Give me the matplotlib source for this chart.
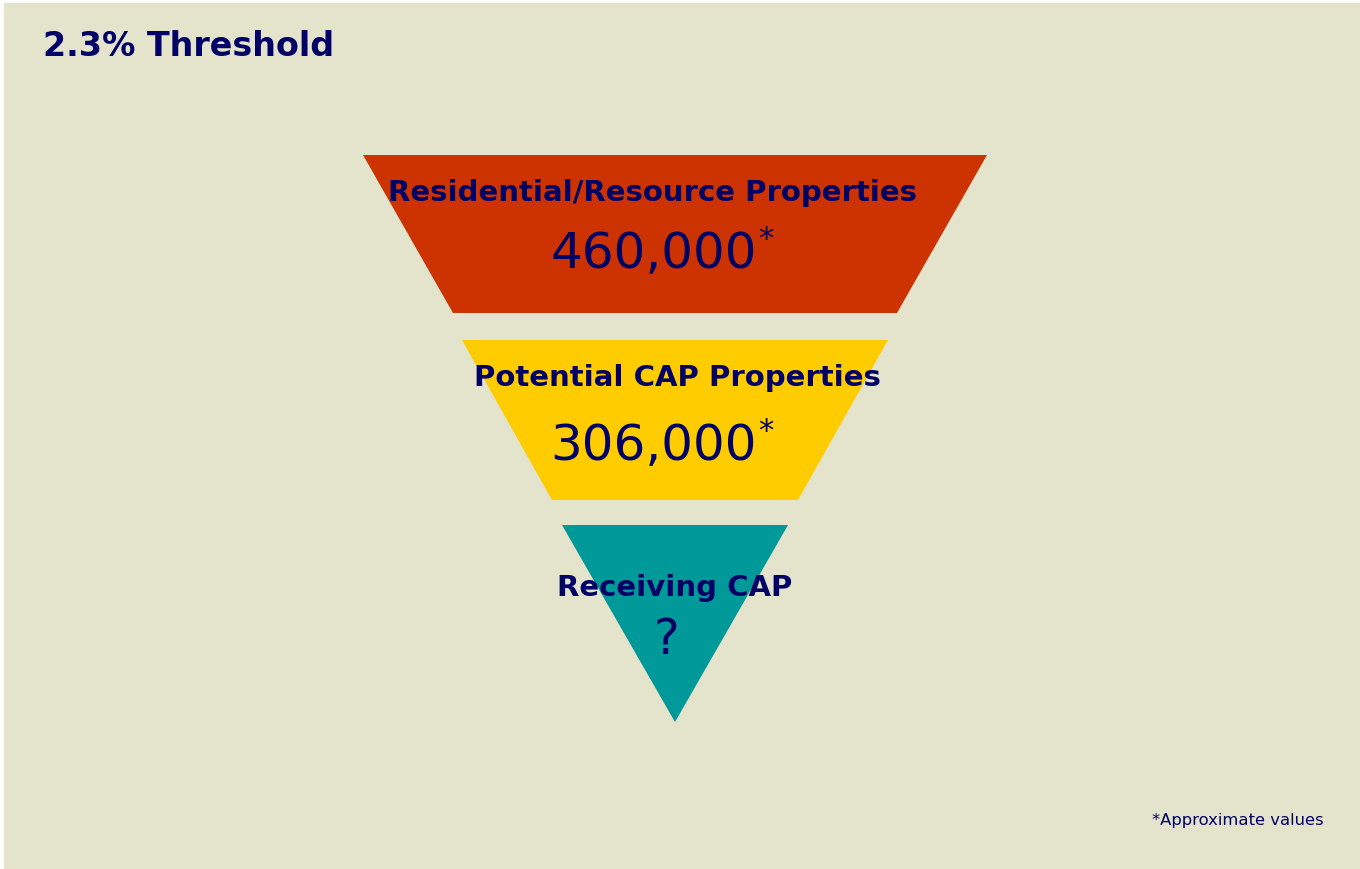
import matplotlib
matplotlib.use('Agg')
import matplotlib.pyplot as plt
from matplotlib.patches import Polygon, Rectangle

# funnel stages, top to bottom
stages = ['Residential/Resource Properties', 'Potential CAP Properties', 'Receiving CAP']
counts = [460000, 306000, None]   # None = not known yet
colors = ['#CC3300', '#FFCC00', '#009999']

# outline of each stage: (top y, bottom y, top half-width, bottom half-width)
shapes = [(155, 313, 312, 222), (340, 500, 213, 123), (525, 722, 113, 0)]
cx = 675
navy = '#000066'

fig = plt.figure(figsize=(13.6, 8.69), dpi=100)
ax = fig.add_axes([0, 0, 1, 1])
ax.set_xlim(0, 1360)
ax.set_ylim(869, 0)
ax.axis('off')

ax.add_patch(Rectangle((4, 3), 1356, 865, color='#E4E4CC', zorder=0))

ax.text(43, 47, '2.3% Threshold', fontsize=24, fontweight='bold', color=navy,
        va='center', ha='left')

label_x = [652, 677, 675]
label_y = [193, 378, 588]
num_y = [254, 446, 640]
for i in range(len(stages)):
    y0, y1, w0, w1 = shapes[i]
    pts = [(cx - w0, y0), (cx + w0, y0), (cx + w1, y1), (cx - w1, y1)]
    ax.add_patch(Polygon(pts, closed=True, color=colors[i], lw=0, zorder=1))
    ax.text(label_x[i], label_y[i], stages[i],
            fontsize=21, fontweight='bold', color=navy, ha='center', va='center', zorder=2)
    if counts[i] is None:
        ax.text(666, num_y[i], '?', fontsize=35, color=navy, ha='center', va='center', zorder=2)
    else:
        ax.text(654, num_y[i], f'{counts[i]:,}', fontsize=36, color=navy,
                ha='center', va='center', zorder=2)
        ax.text(758, num_y[i] - 14, '*', fontsize=22, color=navy,
                ha='left', va='center', zorder=2)

ax.text(1324, 821, '*Approximate values', fontsize=11.8, color=navy, ha='right', va='center')

fig.savefig('out.png', dpi=100, facecolor='white')
